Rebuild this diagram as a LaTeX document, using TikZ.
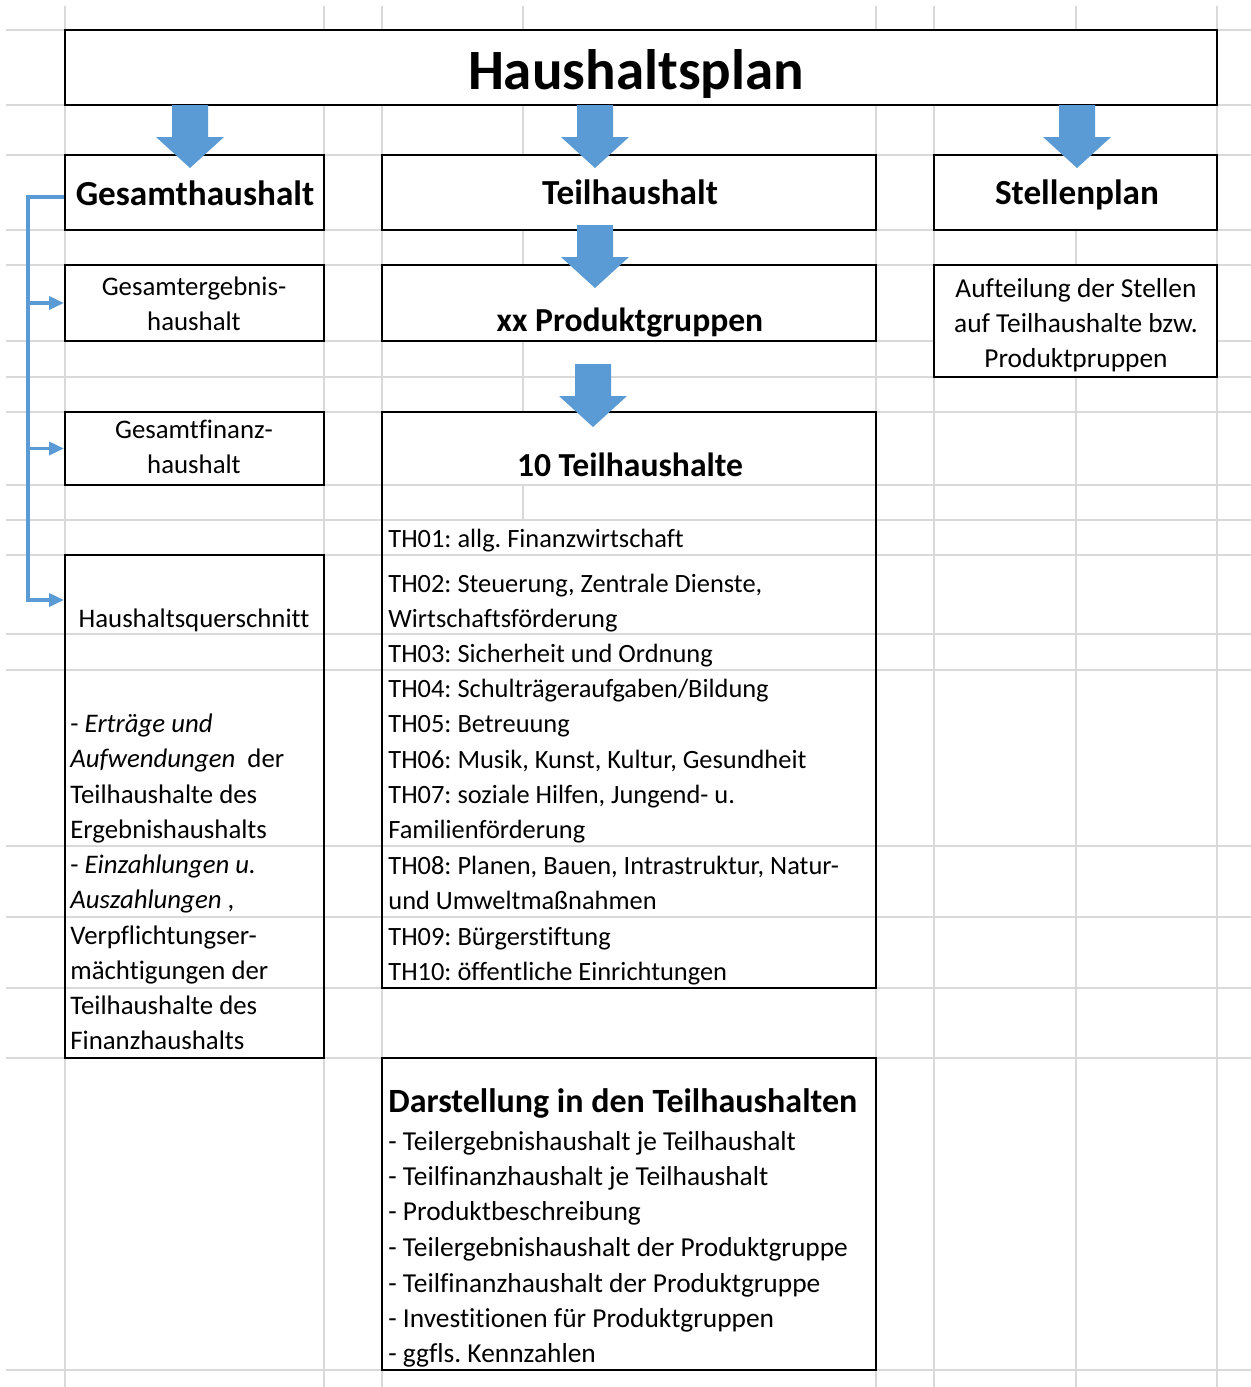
\documentclass[tikz,border=0pt]{standalone}
\usepackage{fontspec}
\setmainfont{Carlito}[Ligatures=CommonOff]
\frenchspacing
\usetikzlibrary{arrows.meta,fit}
\definecolor{gridgray}{HTML}{D9D9D9}
\definecolor{arrowblue}{HTML}{5B9BD5}
\tikzset{
  gridl/.style={draw=gridgray,line width=0.8pt},
  cellbox/.style={draw=black,line width=1pt,fill=white,inner sep=0pt},
  openbox/.style={draw=black,line width=1pt,inner sep=0pt},
  titletxt/.style={font=\fontsize{28.5}{34}\selectfont\bfseries,anchor=base,inner sep=0pt},
  headtxt/.style={font=\fontsize{17.6}{21}\selectfont\bfseries,anchor=base,inner sep=0pt},
  subhead/.style={font=\fontsize{16.8}{20}\selectfont\bfseries,anchor=base,inner sep=0pt},
  txt/.style={font=\fontsize{13.2}{17.6}\selectfont,anchor=base,inner sep=0pt},
  ctxt/.style={txt,font=\fontsize{13.4}{17.6}\selectfont},
  wtxt/.style={txt,font=\fontsize{13.7}{17.6}\selectfont},
  ltxt/.style={txt,anchor=base west},
  lctxt/.style={ctxt,anchor=base west},
  lwtxt/.style={wtxt,anchor=base west},
  conn/.style={draw=arrowblue,line width=1.8pt},
  connarrow/.style={conn,-{Triangle[length=7.5pt,width=6.5pt]}},
  blockarrow/.pic={\fill[arrowblue] (-18,0) -- (18,0) -- (18,32) -- (34,32) -- (0,63) -- (-34,32) -- (-18,32) -- cycle;}
}
\begin{document}
\begin{tikzpicture}[x=0.5pt,y=-0.5pt]
\useasboundingbox (0,0) rectangle (1251,1387);
\fill[white] (0,0) rectangle (1251,1387);
% grid
\foreach \yy in {30,105,155,230,265,341,377,412,485,520,555,634,670,846,917,988,1058,1370}
  \draw[gridl] (6,\yy) -- (1251,\yy);
\foreach \xx in {65,324,382,876,934,1076,1217}
  \draw[gridl] (\xx,6) -- (\xx,1387);
\foreach \ya/\yb in {6/30,105/155,230/265,341/412,485/520}
  \draw[gridl] (523,\ya) -- (523,\yb);
% boxes
\node[cellbox,fit={(65,30)(1217,105)}] (hp) {};
\node[cellbox,fit={(65,155)(324,230)}] (gh) {};
\node[cellbox,fit={(382,155)(876,230)}] (th) {};
\node[cellbox,fit={(934,155)(1217,230)}] (sp) {};
\node[cellbox,fit={(65,265)(324,341)}] (geh) {};
\node[cellbox,fit={(382,265)(876,341)}] (pg) {};
\node[cellbox,fit={(934,265)(1217,377)}] (auf) {};
\node[cellbox,fit={(65,412)(324,485)}] (gfh) {};
\node[openbox,fit={(382,412)(876,988)}] (tth) {};
\node[openbox,fit={(65,555)(324,1058)}] (hq) {};
\node[cellbox,fit={(382,1058)(876,1370)}] (dar) {};
% texts
\node[titletxt] (hpt) at (636,89) {Haushaltsplan};
\node[headtxt] (ght) at (195,205) {Gesamthaushalt};
\node[headtxt] (tht) at (630,204) {Teilhaushalt};
\node[headtxt] (spt) at (1077,204) {Stellenplan};
\node[ctxt] (geh1) at (194,295) {Gesamtergebnis-};
\node[ctxt] (geh2) at (194,330) {haushalt};
\node[subhead] (pgt) at (630,331) {xx Produktgruppen};
\node[wtxt] (auf1) at (1076,297) {Aufteilung der Stellen};
\node[wtxt] (auf2) at (1076,332) {auf Teilhaushalte bzw.};
\node[wtxt] (auf3) at (1076,367) {Produktpruppen};
\node[ctxt] (gfh1) at (194,438) {Gesamtfinanz-};
\node[ctxt] (gfh2) at (194,473) {haushalt};
\node[subhead] (ttht) at (630,476) {10 Teilhaushalte};
\node[ltxt] (t01) at (388,547) {TH01: allg. Finanzwirtschaft};
\node[ltxt] (t02a) at (388,592) {TH02: Steuerung, Zentrale Dienste,};
\node[ltxt] (t02b) at (388,627) {Wirtschaftsförderung};
\node[ltxt] (t03) at (388,662) {TH03: Sicherheit und Ordnung};
\node[ltxt] (t04) at (388,697) {TH04: Schulträgeraufgaben/Bildung};
\node[ltxt] (t05) at (388,732) {TH05: Betreuung};
\node[ltxt] (t06) at (388,768) {TH06: Musik, Kunst, Kultur, Gesundheit};
\node[ltxt] (t07a) at (388,803) {TH07: soziale Hilfen, Jungend- u.};
\node[ltxt] (t07b) at (388,838) {Familienförderung};
\node[ltxt] (t08a) at (388,874) {TH08: Planen, Bauen, Intrastruktur, Natur-};
\node[ltxt] (t08b) at (388,909) {und Umweltmaßnahmen};
\node[ltxt] (t09) at (388,945) {TH09: Bürgerstiftung};
\node[ltxt] (t10) at (388,980) {TH10: öffentliche Einrichtungen};
\node[ctxt] (hqt) at (194,627) {Haushaltsquerschnitt};
\node[lctxt] (q1) at (70,732) {- \textit{Erträge und}};
\node[lctxt] (q2) at (70,767) {\textit{Aufwendungen}\hspace{0.45em}der};
\node[lctxt] (q3) at (70,803) {Teilhaushalte des};
\node[lctxt] (q4) at (70,838) {Ergebnishaushalts};
\node[lctxt] (q5) at (70,873) {- \textit{Einzahlungen u.}};
\node[lctxt] (q6) at (70,908) {\textit{Auszahlungen} ,};
\node[lctxt] (q7) at (70,944) {Verpflichtungser-};
\node[lctxt] (q8) at (70,979) {mächtigungen der};
\node[lctxt] (q9) at (70,1014) {Teilhaushalte des};
\node[lctxt] (q10) at (70,1049) {Finanzhaushalts};
\node[subhead,anchor=base west,font=\fontsize{17}{20}\selectfont\bfseries] (dart) at (388,1112) {Darstellung in den Teilhaushalten};
\node[lwtxt] (d1) at (388,1150) {- Teilergebnishaushalt je Teilhaushalt};
\node[lwtxt] (d2) at (388,1185) {- Teilfinanzhaushalt je Teilhaushalt};
\node[lwtxt] (d3) at (388,1220) {- Produktbeschreibung};
\node[lwtxt] (d4) at (388,1256) {- Teilergebnishaushalt der Produktgruppe};
\node[lwtxt] (d5) at (388,1292) {- Teilfinanzhaushalt der Produktgruppe};
\node[lwtxt] (d6) at (388,1327) {- Investitionen für Produktgruppen};
\node[lwtxt] (d7) at (388,1362) {- ggfls. Kennzahlen};
% block arrows
\pic at (190,105) {blockarrow};
\pic at (595,105) {blockarrow};
\pic at (595,225) {blockarrow};
\pic at (593,364) {blockarrow};
\pic at (1077,105) {blockarrow};
% left connector
\coordinate (k0) at (28,197);
\coordinate (k3) at (28,600);
\draw[connarrow] ([yshift=-2.25pt]gh.west) -- (k0) -- (k3) -- (k3 -| hq.west);
\draw[connarrow] (k0 |- geh.west) -- (geh.west);
\draw[connarrow] (k0 |- gfh.west) -- (gfh.west);
\end{tikzpicture}
\end{document}
